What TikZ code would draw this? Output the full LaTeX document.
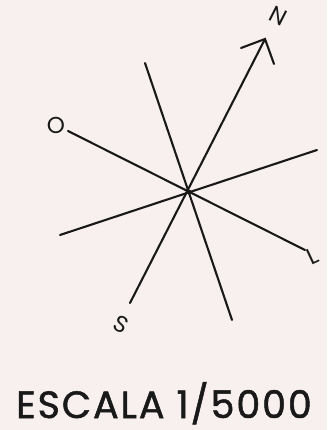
\documentclass[tikz,border=0pt]{standalone}
\usepackage{fontspec}
\setmainfont{Poppins}
\newfontfamily\titlefont{Poppins}[FakeBold=1.3,LetterSpace=5]
\definecolor{bg}{RGB}{247,240,239}
\definecolor{ink}{RGB}{25,25,25}
\begin{document}
\begin{tikzpicture}[x=1pt,y=-1pt,
  ray/.style={draw=ink,line width=2.1pt,line cap=round},
  lbl/.style={text=ink,font=\fontsize{23}{23}\selectfont,inner sep=0pt}]
\fill[bg] (0,0) rectangle (327,430);
\useasboundingbox (0,0) rectangle (327,430);
\coordinate (C) at (189,192);
\coordinate (Ntip) at (265,39);
\coordinate (Nl) at (241,48);
\coordinate (Nr) at (274,64);
\coordinate (Send) at (130,303);
\coordinate (Oend) at (68,131);
\coordinate (Lend) at (305,250);
\coordinate (Aend) at (145,63);
\coordinate (Bend) at (232,320);
\coordinate (Dend) at (317,150);
\coordinate (Eend) at (60,235);
\draw[ray] (Send) -- (Ntip);
\draw[ray,line join=miter] (Nl) -- (Ntip) -- (Nr);
\draw[ray] (Oend) -- (Lend);
\draw[ray] (Aend) -- (Bend);
\draw[ray] (Eend) -- (Dend);
\fill[ink] (C) circle (2.4pt);
\node[lbl,rotate=-27] (N) at (278,16) {N};
\node[lbl] (O) at (56,125) {O};
\node[lbl,rotate=-27] (S) at (121,324) {S};
\node[lbl,rotate=25] (L) at (313,256) {L};
\node[text=ink,inner sep=0pt,anchor=base,text depth=3pt,font=\titlefont\fontsize{38}{38}\selectfont] (T) at (164,418) {ESCALA 1/5000};
\end{tikzpicture}
\end{document}
